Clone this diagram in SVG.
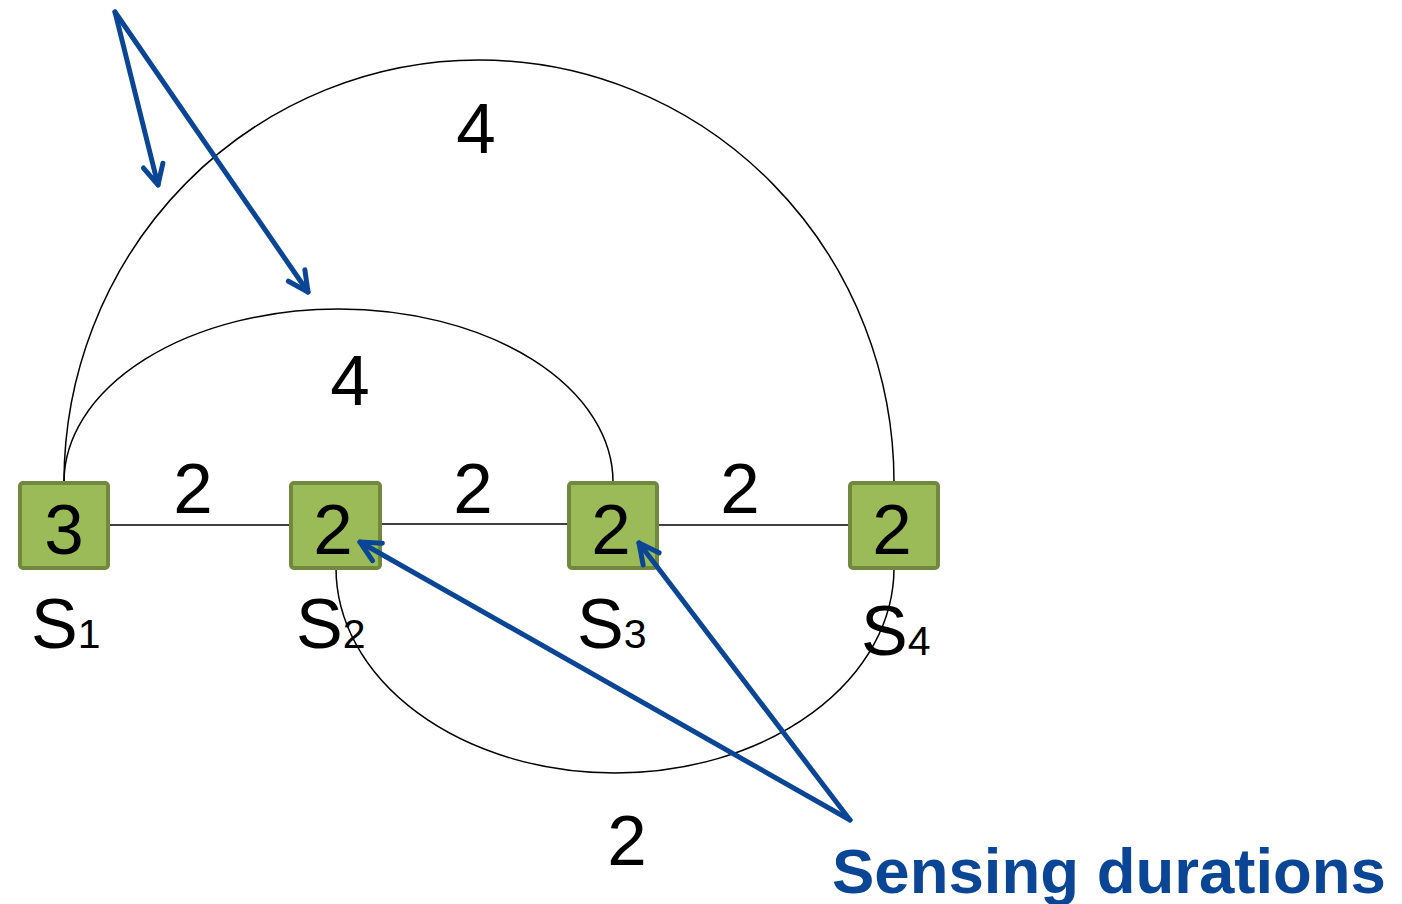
<svg xmlns="http://www.w3.org/2000/svg" width="1402" height="904" viewBox="0 0 1402 904">
<style>
.edge{fill:none;stroke:#000;stroke-width:1.5}
.ptr{fill:none;stroke:#0B4595;stroke-width:5;stroke-linecap:round}
.box{fill:#9BBB59;stroke:#71893F;stroke-width:4}
.num{font-family:"Liberation Sans",Arial,sans-serif;font-size:71px;fill:#000;text-anchor:middle}
.lbl{font-family:"Liberation Sans",Arial,sans-serif;font-size:70px;fill:#000}
.sub{font-size:41px}
.cap{font-family:"Liberation Sans",Arial,sans-serif;font-size:63.5px;font-weight:bold;fill:#0B4595}
</style>
<defs>
<marker id="head" markerUnits="userSpaceOnUse" markerWidth="40" markerHeight="40" viewBox="-30 -20 40 40" refX="0" refY="0" orient="auto">
<path d="M -20 -10 L 0 0 L -20 10" fill="none" stroke="#0B4595" stroke-width="5" stroke-linecap="round" stroke-linejoin="round"/>
</marker>
</defs>
<g id="connectors">
<path class="edge" d="M 64 482 A 415 422 0 0 1 894 482"/>
<path class="edge" d="M 64 482 A 274.5 173 0 0 1 613 482"/>
<path class="edge" d="M 336 568 A 279 205 0 0 0 894 568"/>
<line class="edge" x1="109" y1="525" x2="290" y2="525"/>
<line class="edge" x1="381" y1="524" x2="568" y2="524"/>
<line class="edge" x1="658" y1="525" x2="849" y2="525"/>
</g>
<g id="edge-labels">
<text class="num" x="476" y="153">4</text>
<text class="num" x="350" y="405">4</text>
<text class="num" x="193" y="513">2</text>
<text class="num" x="473" y="513">2</text>
<text class="num" x="740" y="513">2</text>
<text class="num" x="627" y="865">2</text>
</g>
<g id="s1">
<rect class="box" x="20" y="483" width="88" height="85" rx="3"/>
<text class="num" x="64" y="554">3</text>
<text class="lbl" x="31" y="648">S<tspan class="sub">1</tspan></text>
</g>
<g id="s2">
<rect class="box" x="291" y="483" width="89" height="85" rx="3"/>
<text class="num" x="333" y="554">2</text>
<text class="lbl" x="296" y="648">S<tspan class="sub">2</tspan></text>
</g>
<g id="s3">
<rect class="box" x="569" y="483" width="88" height="85" rx="3"/>
<text class="num" x="611" y="554">2</text>
<text class="lbl" x="577" y="648">S<tspan class="sub">3</tspan></text>
</g>
<g id="s4">
<rect class="box" x="850" y="483" width="88" height="85" rx="3"/>
<text class="num" x="892" y="554">2</text>
<text class="lbl" x="861" y="655">S<tspan class="sub">4</tspan></text>
</g>
<g id="pointers">
<line class="ptr" x1="115" y1="12" x2="158" y2="185" marker-end="url(#head)"/>
<line class="ptr" x1="115" y1="12" x2="308" y2="292" marker-end="url(#head)"/>
<line class="ptr" x1="850" y1="820" x2="360" y2="542" marker-end="url(#head)"/>
<line class="ptr" x1="850" y1="820" x2="639" y2="543" marker-end="url(#head)"/>
</g>
<g id="caption">
<text class="cap" x="832" y="893">Sensing durations</text>
</g>
</svg>
